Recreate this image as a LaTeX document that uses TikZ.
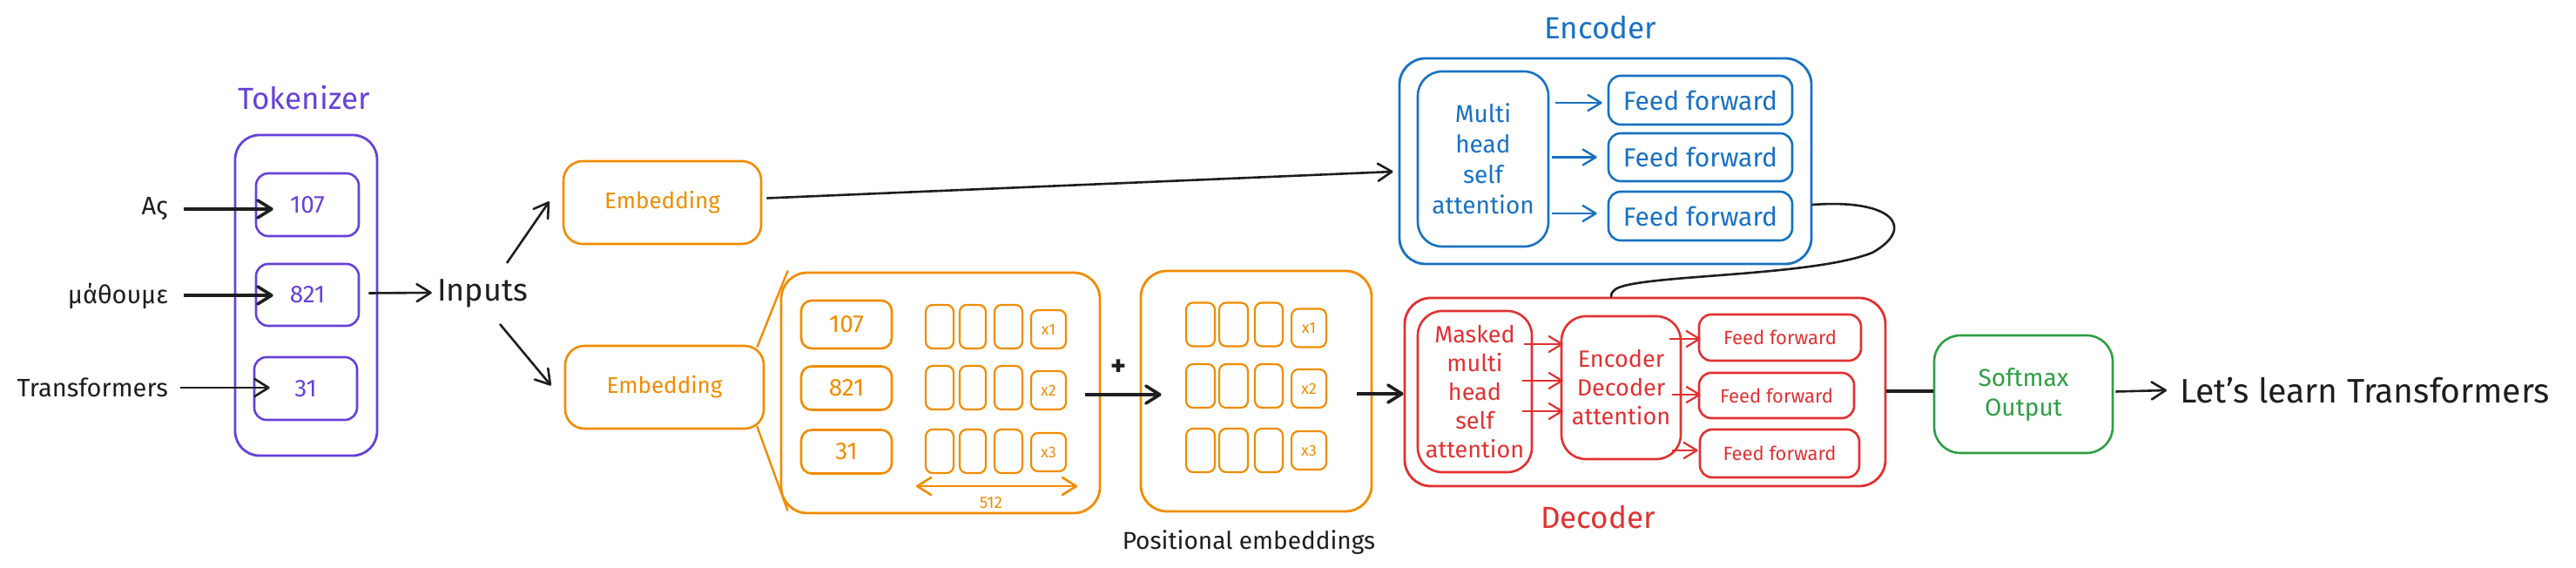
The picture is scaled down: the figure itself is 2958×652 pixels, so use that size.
\documentclass[tikz,border=0pt]{standalone}
\usepackage{fontspec}
\setmainfont{Fira Sans}
\usetikzlibrary{arrows.meta,calc}
\definecolor{cpur}{RGB}{103,65,217}
\definecolor{corg}{RGB}{240,140,0}
\definecolor{cblu}{RGB}{25,113,194}
\definecolor{cred}{RGB}{224,49,49}
\definecolor{cgrn}{RGB}{47,158,68}
\definecolor{cblk}{RGB}{30,30,30}
\newcommand{\fsz}[2]{\fontsize{#1}{#2}\selectfont}
\begin{document}
\begin{tikzpicture}[x=1pt,y=-1pt,
  bx/.style={draw,inner sep=0pt,line width=2.6pt,rounded corners=14pt},
  bigbx/.style={bx,line width=2.8pt,rounded corners=30pt},
  sz/.style 2 args={minimum width=#1pt,minimum height=#2pt},
  txt/.style={inner sep=0pt},
  cell/.style={bx,draw=corg,line width=2.2pt,rounded corners=8pt,minimum height=50pt},
  xcell/.style={bx,draw=corg,text=corg,line width=2.2pt,rounded corners=8pt,minimum width=40pt,minimum height=44pt,font=\fsz{18}{18}},
  tipA/.style={-{Straight Barb[length=16pt,width=20pt,round]}},
  arr/.style={draw=cblk,line width=2.6pt,tipA},
  barr/.style={draw=cblk,line width=3.6pt,tipA},
  carr/.style={line width=2.4pt,-{Straight Barb[length=15pt,width=18pt,round]}},
  conn/.style={draw=cblk,line width=2.6pt,line cap=round}]
\useasboundingbox (0,0) rectangle (2958,652);

% ---------------- Tokenizer ----------------
\node[txt,text=cpur,font=\fsz{35}{35}] (toklab) at (349,112) {Tokenizer};
\node[bigbx,draw=cpur,rounded corners=28pt,sz={163}{368}] (tok) at (351.5,339) {};
\node[bx,draw=cpur,text=cpur,sz={118}{72},font=\fsz{28}{28}] (t107) at (353,235) {107};
\node[bx,draw=cpur,text=cpur,sz={118}{71},font=\fsz{28}{28}] (t821) at (353,338.5) {821};
\node[bx,draw=cpur,text=cpur,sz={118}{72},font=\fsz{28}{28}] (t31) at (351,446) {31};

\node[txt,anchor=east,text=cblk,font=\fsz{29}{29}] (w1) at (193,240) {Ας};
\node[txt,anchor=east,text=cblk,font=\fsz{29}{29}] (w2) at (193,340) {μάθουμε};
\node[txt,anchor=east,text=cblk,font=\fsz{29}{29}] (w3) at (193,445) {Transformers};

\draw[barr] ($(w1.east)+(18,0)$) -- ($(w1.east -| t107.west)+(21,0)$);
\draw[barr] ($(w2.east)+(18,-1)$) -- ($(w2.east -| t821.west)+(21,-1)$);
\draw[arr] ($(w3.east)+(14,0)$) -- ($(w3.east -| t31.west)+(19,0)$);

\node[txt,text=cblk,font=\fsz{36}{36}] (inputs) at (554,337) {Inputs};
\draw[arr] ($(t821.east)+(10,-2)$) -- ($(inputs.west)+(-6,-1)$);

% ---------------- Embeddings ----------------
\node[bx,draw=corg,text=corg,rounded corners=22pt,sz={227}{95},font=\fsz{26}{26}] (emb1) at (760.5,232.5) {Embedding};
\node[bx,draw=corg,text=corg,rounded corners=22pt,sz={228}{95},font=\fsz{26}{26}] (emb2) at (763,444.5) {Embedding};
\draw[arr] ($(inputs.center)+(28,-35)$) -- ($(emb1.south west)+(-15,-50)$);
\draw[arr] ($(inputs.center)+(20,35)$) -- ($(emb2.west)+(-15,-2)$);

\node[bigbx,draw=corg,sz={366}{276}] (bigemb) at (1080,451) {};
\draw[corg,line width=2.4pt] ($(emb2.north east)+(-9,3)$) -- ($(bigemb.north west)+(9,-1)$);
\draw[corg,line width=2.4pt] ($(emb2.south east)+(-9,-4)$) -- ($(bigemb.south west)+(9,-4)$);

\node[bx,draw=corg,text=corg,rounded corners=12pt,sz={104}{55},font=\fsz{28}{28}] (b107) at (972,372.5) {107};
\node[bx,draw=corg,text=corg,rounded corners=12pt,sz={104}{50},font=\fsz{28}{28}] (b821) at (972,445.5) {821};
\node[bx,draw=corg,text=corg,rounded corners=12pt,sz={104}{50},font=\fsz{28}{28}] (b31) at (972,518.5) {31};

\foreach \r/\y/\yx/\lab in {1/375/378/x1,2/445/448/x2,3/518/519/x3}{
  \foreach \c/\x/\w in {1/1079/32,2/1117/30,3/1158/32}{
    \node[cell,minimum width=\w pt] (bc\r\c) at (\x,\y) {};
  }
  \node[xcell] (bx\r) at (1204,\yx) {\lab};
}
\node[txt,text=corg,font=\fsz{19}{19}] (n512) at (1138,577) {512};
\draw[corg,line width=2.6pt,{Straight Barb[length=16pt,width=20pt,round]}-{Straight Barb[length=16pt,width=20pt,round]}]
  ($(bc31.south west)+(-10,14)$) -- ($(bx3.south east)+(12,16)$);

\node[txt,text=cblk,font=\fsz{34}{34}\bfseries] (plus) at (1285,422) {+};

% ---------------- Positional embeddings ----------------
\node[bigbx,draw=corg,sz={265}{276}] (pos) at (1442.5,449) {};
\foreach \r/\y/\yx/\lab in {1/372.5/376.5/x1,2/443/446/x2,3/517/517/x3}{
  \foreach \c/\x/\w in {1/1378.5/33,2/1416.5/33,3/1457/32}{
    \node[cell,minimum width=\w pt] (pc\r\c) at (\x,\y) {};
  }
  \node[xcell] (px\r) at (1503,\yx) {\lab};
}
\node[txt,text=cblk,font=\fsz{28}{28}] (poslab) at (1434,623) {Positional embeddings};
\draw[barr] ($(bigemb.east)+(-18,2)$) -- ($(pos.west)+(25,4)$);

% ---------------- Encoder ----------------
\node[txt,text=cblu,font=\fsz{35}{35}] (enclab) at (1838,32) {Encoder};
\node[bigbx,draw=cblu,sz={473}{236}] (enc) at (1843.5,185) {};
\node[bx,draw=cblu,text=cblu,rounded corners=28pt,sz={150}{201},align=center,font=\fsz{28}{35}] (mhsa) at (1703,182.5) {Multi\\head\\self\\attention};
\node[bx,draw=cblu,text=cblu,sz={211}{56},font=\fsz{30}{30}] (eff1) at (1952.5,115) {Feed forward};
\node[bx,draw=cblu,text=cblu,sz={211}{55},font=\fsz{30}{30}] (eff2) at (1952.5,180.5) {Feed forward};
\node[bx,draw=cblu,text=cblu,sz={211}{56},font=\fsz{30}{30}] (eff3) at (1952.5,248) {Feed forward};
\draw[carr,cblu] ($(eff1.west -| mhsa.east)+(7,3)$) -- ($(eff1.west)+(-6,3)$);
\draw[carr,cblu] ($(eff2.west -| mhsa.east)+(3,0)$) -- ($(eff2.west)+(-12,0)$);
\draw[carr,cblu] ($(eff3.west -| mhsa.east)+(3,-3)$) -- ($(eff3.west)+(-12,-3)$);

\draw[arr] ($(emb1.east)+(5,-5)$) -- ($(enc.west)+(-6,12)$);

% ---------------- Decoder ----------------
\node[bigbx,draw=cred,sz={552}{216}] (dec) at (1889,450) {};
\node[txt,text=cred,font=\fsz{35}{35}] (declab) at (1835,594) {Decoder};
\node[bx,draw=cred,text=cred,rounded corners=28pt,sz={131}{185},align=center,font=\fsz{27}{33}] (mmhsa) at (1693.5,449.5) {Masked\\multi\\head\\self\\attention};
\node[bx,draw=cred,text=cred,rounded corners=28pt,sz={137}{164},align=center,font=\fsz{27}{33}] (eda) at (1861.5,445) {Encoder\\Decoder\\attention};
\node[bx,draw=cred,text=cred,sz={186}{53},font=\fsz{22}{22}] (dff1) at (2044,387.5) {Feed forward};
\node[bx,draw=cred,text=cred,sz={178}{52},font=\fsz{22}{22}] (dff2) at (2040,454) {Feed forward};
\node[bx,draw=cred,text=cred,sz={183}{55},font=\fsz{22}{22}] (dff3) at (2043.5,520.5) {Feed forward};

\draw[carr,cred,line width=2.2pt] ($(mmhsa.east)+(-10,-54.5)$) -- ($(eda.west)+(3,-50)$);
\draw[carr,cred,line width=2.2pt] ($(mmhsa.east)+(-12,-12.5)$) -- ($(eda.west)+(3,-8)$);
\draw[carr,cred,line width=2.2pt] ($(mmhsa.east)+(-12,22.5)$) -- ($(eda.west)+(3,27)$);
\draw[carr,cred,line width=2.2pt] ($(eda.east)+(-14,-56)$) -- ($(dff1.west)+(3,1.5)$);
\draw[carr,cred,line width=2.2pt] ($(eda.east)+(-11,8)$) -- ($(dff2.west)+(3,-1)$);
\draw[carr,cred,line width=2.2pt] ($(eda.east)+(-11,72)$) -- ($(dff3.west)+(-1,-3.5)$);

\draw[barr] ($(pos.east)+(-18,3)$) -- ($(dec.west)+(0,2)$);

% encoder -> decoder curve
\draw[conn] ($(enc.east)+(0,50)$) .. controls (2175,228) and (2200,262) .. (2150,290)
  .. controls (2080,318) and (1880,315) .. (1855,332)
  .. controls (1850,336) and (1850,338) .. ($(dec.north)+(-39,0)$);

% ---------------- Softmax ----------------
\node[bx,draw=cgrn,text=cgrn,rounded corners=30pt,sz={205}{135},align=center,font=\fsz{28}{34}] (sm) at (2323.5,452.5) {Softmax\\Output};
\draw[conn,line width=4pt,line cap=butt] ($(dec.east)+(0,-1)$) -- ($(dec.east -| sm.west)+(0,-1)$);
\node[txt,anchor=west,text=cblk,font=\fsz{39}{39}] (out) at (2503,448) {Let's learn Transformers};
\draw[arr] ($(sm.east)+(2,-3)$) -- ($(out.west)+(-15,0)$);
\end{tikzpicture}
\end{document}
